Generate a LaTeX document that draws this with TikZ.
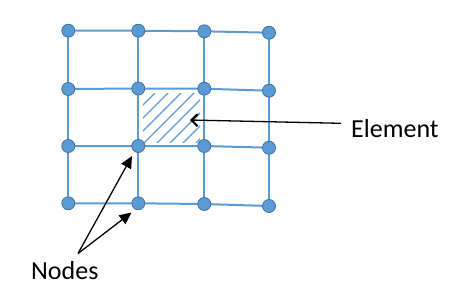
\documentclass[tikz,border=0pt]{standalone}
\usepackage{fontspec}
\setmainfont{Carlito}
\usetikzlibrary{arrows.meta}
\definecolor{gridblue}{HTML}{5B9BD5}
\definecolor{nodeedge}{HTML}{41719C}
\tikzset{
  gnode/.style={circle, fill=gridblue, draw=nodeedge, line width=0.8bp, minimum size=13bp, inner sep=0pt},
  gline/.style={draw=gridblue, line width=2bp},
  hatchline/.style={draw=gridblue, line width=1.1bp},
  label/.style={font=\fontsize{26bp}{30bp}\selectfont, inner sep=0pt, anchor=base west},
  barb/.style={draw=black, line width=1.3bp, -{Straight Barb[length=6bp,width=12bp,line width=2.2bp]}},
  tri/.style={draw=black, line width=1.3bp, -{Triangle[length=12bp,width=11bp]}}
}
\begin{document}
\begin{tikzpicture}[x=1bp,y=-1bp]
\useasboundingbox (0,0) rectangle (454,298);
% hatching of the element
\begin{scope}
  \clip (143,93) rectangle (200,142.5);
  \foreach \c in {248,261,...,339} {
    \draw[hatchline] (\c-160,160) -- (\c-60,60);
  }
\end{scope}
% node coordinates
\coordinate (p11) at (68.3,30.7);
\coordinate (p12) at (138.3,30.7);
\coordinate (p13) at (204.3,31.3);
\coordinate (p14) at (269,32.7);
\coordinate (p21) at (68.3,89);
\coordinate (p22) at (138.3,88.5);
\coordinate (p23) at (204.3,88.7);
\coordinate (p24) at (269,90.7);
\coordinate (p31) at (68.3,146);
\coordinate (p32) at (138.3,146);
\coordinate (p33) at (204.3,146);
\coordinate (p34) at (269,147.7);
\coordinate (p41) at (68.3,203.3);
\coordinate (p42) at (138.3,203.3);
\coordinate (p43) at (204.3,204);
\coordinate (p44) at (269,206);
% grid lines
\foreach \r in {1,2,3,4} {
  \draw[gline] (p\r1) -- (p\r2) -- (p\r3) -- (p\r4);
}
\foreach \c in {1,2,3,4} {
  \draw[gline] (p1\c) -- (p2\c) -- (p3\c) -- (p4\c);
}
% nodes
\foreach \r in {1,2,3,4} {
  \foreach \c in {1,2,3,4} {
    \node[gnode] (n\r\c) at (p\r\c) {};
  }
}
% labels
\node[label] (element) at (351,137.3) {Element};
\node[label] (nodes) at (31,279.5) {Nodes};
% connectors
\coordinate (elstart) at (341,123.3);
\coordinate (eltip) at (190,120);
\draw[barb] (elstart) -- (eltip);
\coordinate (ndstart) at (78,253.5);
\coordinate (tipa) at (132,156);
\coordinate (tipb) at (131.5,212.5);
\draw[tri] (ndstart) -- (tipa);
\draw[tri] (ndstart) -- (tipb);
\end{tikzpicture}
\end{document}
